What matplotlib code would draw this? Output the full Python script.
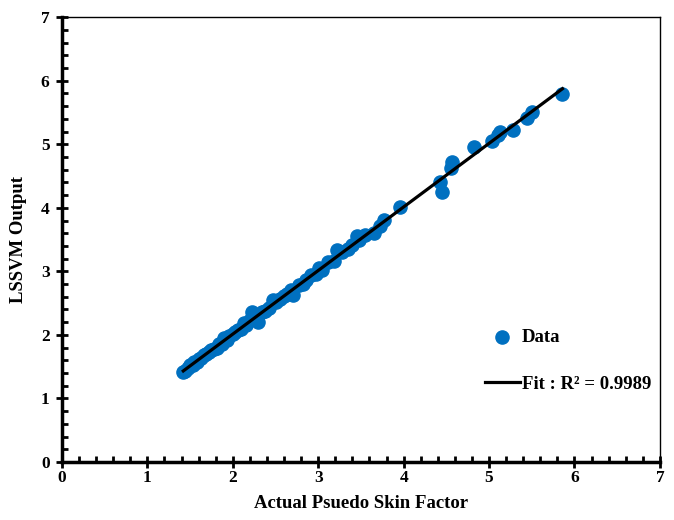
import numpy as np
import matplotlib.pyplot as plt
from matplotlib.ticker import MultipleLocator

# actual pseudo skin factor vs LSSVM output
actual = [1.42, 1.44, 1.47, 1.50, 1.53, 1.55, 1.58, 1.60, 1.63, 1.66, 1.69, 1.72,
          1.75, 1.78, 1.81, 1.84, 1.87, 1.90, 1.93, 1.96, 2.00, 2.03, 2.06, 2.10,
          2.13, 2.16, 2.20, 2.23, 2.26, 2.30, 2.34, 2.38, 2.42, 2.47, 2.50, 2.55,
          2.60, 2.64, 2.68, 2.71, 2.77, 2.82, 2.86, 2.92, 2.97, 3.01, 3.05, 3.12,
          3.18, 3.22, 3.28, 3.35, 3.40, 3.45, 3.48, 3.55, 3.65, 3.72, 3.77, 3.96,
          4.43, 4.45, 4.55, 4.57, 4.82, 5.03, 5.10, 5.13, 5.28, 5.44, 5.50, 5.86]
lssvm = [1.41, 1.44, 1.48, 1.52, 1.53, 1.57, 1.58, 1.62, 1.63, 1.68, 1.70, 1.73,
         1.77, 1.78, 1.80, 1.86, 1.85, 1.95, 1.92, 1.99, 2.02, 2.04, 2.08, 2.09,
         2.18, 2.15, 2.24, 2.36, 2.27, 2.20, 2.36, 2.38, 2.43, 2.55, 2.52, 2.56,
         2.62, 2.65, 2.70, 2.63, 2.78, 2.80, 2.87, 2.95, 2.96, 3.05, 3.02, 3.14,
         3.17, 3.33, 3.30, 3.35, 3.42, 3.55, 3.50, 3.58, 3.60, 3.72, 3.81, 4.02,
         4.41, 4.25, 4.62, 4.72, 4.95, 5.05, 5.14, 5.20, 5.23, 5.41, 5.51, 5.79]

plt.rcParams['font.family'] = ['Liberation Serif', 'DejaVu Serif']
plt.rcParams['font.weight'] = 'bold'

fig = plt.figure(figsize=(6.74, 5.20), dpi=100)
ax = fig.add_axes([0.092, 0.1115, 0.887, 0.8555])

ax.scatter(actual, lssvm, s=90, color='#0070C0', zorder=2, label='Data')

k, b = np.polyfit(actual, lssvm, 1)
xs = np.array([min(actual), max(actual)])
ax.plot(xs, k * xs + b, color='black', lw=2.3, zorder=3, label='Fit : R² = 0.9989')

ax.set_xlim(0, 7)
ax.set_ylim(0, 7)
ax.xaxis.set_major_locator(MultipleLocator(1))
ax.yaxis.set_major_locator(MultipleLocator(1))
ax.xaxis.set_minor_locator(MultipleLocator(0.2))
ax.yaxis.set_minor_locator(MultipleLocator(0.2))
ax.tick_params(which='major', direction='inout', length=8, width=2, labelsize=12.5)
ax.tick_params(axis='x', which='major', pad=2)
ax.tick_params(axis='y', which='major', pad=5)
ax.tick_params(which='minor', direction='in', length=4, width=2)

for s in ['left', 'bottom']:
    ax.spines[s].set_linewidth(2.5)
for s in ['top', 'right']:
    ax.spines[s].set_linewidth(1)

ax.set_xlabel('Actual Psuedo Skin Factor', fontsize=13.5, fontweight='bold', labelpad=6)
ax.set_ylabel('LSSVM Output', fontsize=13.5, fontweight='bold', labelpad=10)

ax.legend(loc='center left', bbox_to_anchor=(0.707, 0.228), borderaxespad=0, borderpad=0,
          frameon=False, handlelength=1.9, handletextpad=0.1,
          labelspacing=1.6, prop={'weight': 'bold', 'size': 13.5})

fig.savefig('out.png', dpi=100)
